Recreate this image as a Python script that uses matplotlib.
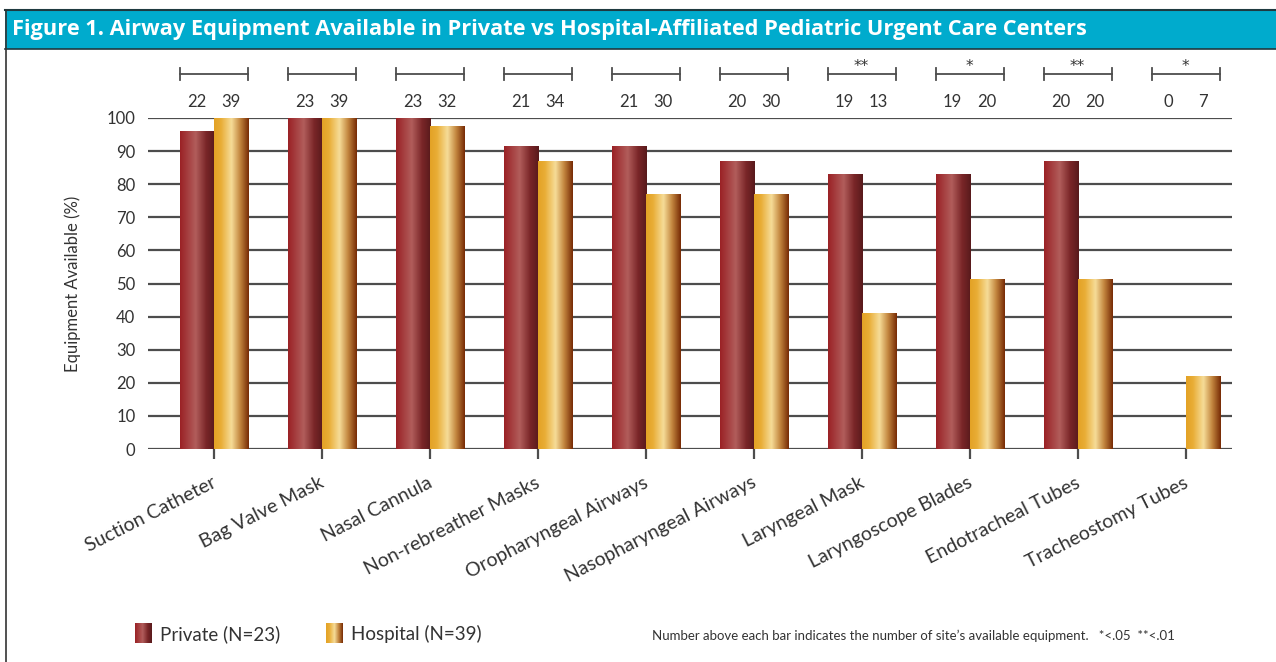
import numpy as np
import matplotlib
matplotlib.use("Agg")
import matplotlib.pyplot as plt
from matplotlib.colors import LinearSegmentedColormap
from matplotlib.patches import Rectangle
from matplotlib.lines import Line2D

# ---------------- data ----------------
categories = ["Suction Catheter", "Bag Valve Mask", "Nasal Cannula", "Non-rebreather Masks",
              "Oropharyngeal Airways", "Nasopharyngeal Airways", "Laryngeal Mask",
              "Laryngoscope Blades", "Endotracheal Tubes", "Tracheostomy Tubes"]
private_pct = [96, 100, 100, 91.5, 91.5, 87, 83, 83, 87, 0]
hospital_pct = [100, 100, 97.5, 87, 77, 77, 41, 51.5, 51.5, 22]
private_n = ["22", "23", "23", "21", "21", "20", "19", "19", "20", "0"]
hospital_n = ["39", "39", "32", "34", "30", "30", "13", "20", "20", "7"]
signif = ["", "", "", "", "", "", "**", "*", "**", "*"]
yticks = [0, 10, 20, 30, 40, 50, 60, 70, 80, 90, 100]
series_labels = ["Private (N=23)", "Hospital (N=39)"]
title = "Figure 1. Airway Equipment Available in Private vs Hospital-Affiliated Pediatric Urgent Care Centers"
ylabel = "Equipment Available (%)"
footnote = "Number above each bar indicates the number of site\u2019s available equipment.   *<.05  **<.01"

# ---------------- style ----------------
W, H = 1276, 662
FONT = "Lato"
TXT = "#333333"
GRID = "#4d4d4d"
priv_cmap = LinearSegmentedColormap.from_list(
    "priv", [(0, "#9a2125"), (0.45, "#b15d5b"), (0.75, "#7a2628"), (1, "#581a1c")])
hosp_cmap = LinearSegmentedColormap.from_list(
    "hosp", [(0, "#e3a225"), (0.2, "#e9ad36"), (0.5, "#f6dc98"), (0.75, "#c2853e"), (1, "#762a04")])
grad = np.linspace(0, 1, 256).reshape(1, -1)

fig = plt.figure(figsize=(W / 100, H / 100), dpi=100)

def fx(px):
    return px / W

def fy(py):
    return 1 - py / H

# title bar
fig.patches.append(Rectangle((fx(5), fy(49)), 1 - fx(5), fy(10) - fy(49), transform=fig.transFigure,
                             facecolor="#00abcd", edgecolor="none", zorder=0))
fig.add_artist(Line2D([fx(5), 1], [fy(10), fy(10)], color="#1f3a40", lw=1.5))
fig.add_artist(Line2D([fx(5), 1], [fy(49), fy(49)], color="#1f3a40", lw=1.2))
fig.add_artist(Line2D([fx(5.5), fx(5.5)], [0, fy(10)], color="#333333", lw=1.2))
fig.text(fx(12), fy(30), title, color="white", fontsize=15.7, fontweight="bold",
         family="Open Sans", va="center", ha="left")

# axes
ax = fig.add_axes([fx(148), fy(449), fx(1232) - fx(148), fy(118) - fy(449)])
x = np.arange(len(categories))
bw = 0.315

for s in ax.spines.values():
    s.set_visible(False)
for t in yticks:
    ax.axhline(t, color=GRID, lw=1.6, zorder=1)

def grad_bars(xs, hs, cmap):
    bars = ax.bar(xs, hs, width=bw, color="none", edgecolor="none", zorder=2)
    for b in bars:
        if b.get_height() <= 0:
            continue
        x0, y0 = b.get_x(), b.get_y()
        im = ax.imshow(grad, cmap=cmap, aspect="auto", extent=(x0, x0 + b.get_width(), y0, y0 + b.get_height()),
                       zorder=3, interpolation="bilinear")
        im.set_clip_path(b)
    return bars

grad_bars(x - bw / 2, private_pct, priv_cmap)
grad_bars(x + bw / 2, hospital_pct, hosp_cmap)
ax.set_xlim(-0.61, 9.43)
ax.set_ylim(0, 100)

ax.set_yticks(yticks)
ax.set_yticklabels([str(t) for t in yticks], fontsize=12, color=TXT, family=FONT)
ax.tick_params(axis="y", length=0, pad=9)
ax.set_xticks(x)
ax.set_xticklabels([])
ax.tick_params(axis="x", length=7, width=1.6, color=GRID, direction="out")
ax.set_ylabel(ylabel, fontsize=12, color=TXT, family=FONT)
ax.yaxis.set_label_coords(-0.062, 0.5)

for i, c in enumerate(categories):
    ax.annotate(c, xy=(x[i], 0), xytext=(-2, -18), textcoords="offset points",
                ha="right", va="top", rotation=27, rotation_mode="anchor",
                fontsize=14, color=TXT, family=FONT, annotation_clip=False)

# brackets, counts, stars
for i in range(len(categories)):
    l, r = x[i] - bw, x[i] + bw
    yb = 113.3
    ax.plot([l, r], [yb, yb], color=GRID, lw=1.3, clip_on=False)
    ax.plot([l, l], [yb - 1.8, yb + 1.8], color=GRID, lw=1.3, clip_on=False)
    ax.plot([r, r], [yb - 1.8, yb + 1.8], color=GRID, lw=1.3, clip_on=False)
    ax.text(x[i] - bw / 2, 104.8, private_n[i], ha="center", va="center", fontsize=12, color=TXT, family=FONT, clip_on=False)
    ax.text(x[i] + bw / 2, 104.8, hospital_n[i], ha="center", va="center", fontsize=12, color=TXT, family=FONT, clip_on=False)
    if signif[i]:
        ax.text(x[i], 115.6, signif[i], ha="center", va="center", fontsize=11, color=TXT,
                family="DejaVu Sans", clip_on=False)

# legend (manual gradient swatches)
for (x0, cmap, lab) in [(135, priv_cmap, series_labels[0]), (326, hosp_cmap, series_labels[1])]:
    sax = fig.add_axes([fx(x0), fy(643), fx(17), fy(623) - fy(643)])
    sax.imshow(grad, cmap=cmap, aspect="auto", interpolation="bilinear")
    sax.axis("off")
    fig.text(fx(x0 + 25), fy(634), lab, fontsize=13.5, color=TXT, family=FONT, va="center", ha="left")

fig.text(fx(652), fy(636), footnote, fontsize=9.5, color=TXT, family=FONT, va="center", ha="left")

fig.savefig("out.png", dpi=100)
